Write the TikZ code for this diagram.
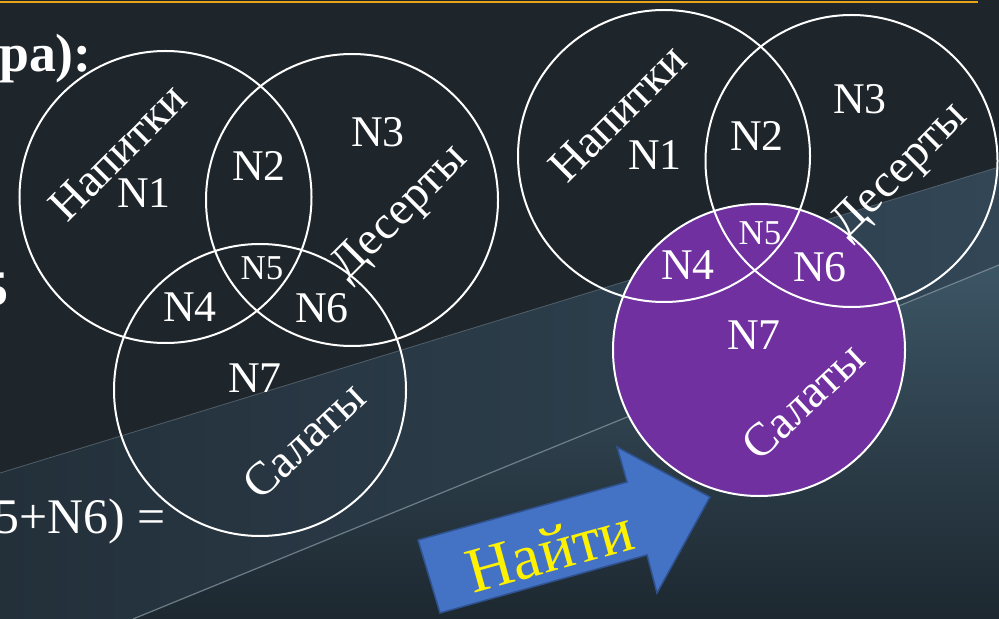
\documentclass[tikz,border=0pt]{standalone}
\usepackage{fontspec}
\setmainfont{Liberation Serif}
\usepackage{tikz}
\usetikzlibrary{shapes}
\definecolor{bgdark}{RGB}{30,38,44}
\definecolor{bandlow}{RGB}{35,48,58}
\definecolor{bandhigh}{RGB}{50,70,86}
\definecolor{streaktop}{RGB}{60,85,101}
\definecolor{streakbot}{RGB}{29,40,48}
\definecolor{gold}{RGB}{232,163,23}
\definecolor{vennpurple}{RGB}{112,48,160}
\definecolor{arrowblue}{RGB}{68,114,196}
\definecolor{arrowedge}{RGB}{47,82,143}
\tikzstyle{vset} = [circle, draw=white, line width=2bp, minimum size=292bp, inner sep=0pt]
\tikzstyle{region} = [text=white, inner sep=0pt, font=\fontsize{44}{44}\selectfont]
\tikzstyle{smallregion} = [text=white, inner sep=0pt, font=\fontsize{35}{35}\selectfont]
\tikzstyle{setname} = [text=white, inner sep=0pt, font=\fontsize{47}{47}\selectfont]
\tikzstyle{slidetext} = [text=white, inner sep=0pt, font=\fontsize{50}{50}\selectfont]

\begin{document}
\begin{tikzpicture}[x=1bp, y=-1bp]

\useasboundingbox (0,0) rectangle (999,619);
\clip (0,0) rectangle (999,619);

% background =============================
\fill[bgdark] (0,0) rectangle (999,619);
\shade[left color=bandlow, right color=bandhigh] (0,473) -- (999,167) -- (999,619) -- (0,619) -- cycle;
\shade[top color=streaktop, bottom color=streakbot] (133,619) -- (999,265) -- (999,619) -- cycle;
\draw[white!30!bandhigh, line width=0.8bp, opacity=0.6] (0,473) -- (999,167);
\draw[white!35!streaktop, line width=1.2bp, opacity=0.8] (133,619) -- (999,265);
\draw[gold, line width=2.5bp] (0,2) -- (978,2);

% slide text cut by the frame
\node[slidetext, font=\bfseries\fontsize{54}{54}\selectfont, anchor=base east] (headtail) at (92,72) {ра):};
\node[slidetext, font=\bfseries\fontsize{50}{50}\selectfont, anchor=base east] (fivetail) at (9,305) {5};
\node[slidetext, anchor=base east] (sumtail) at (166,533) {5+N6) =};

% left diagram ===========================
\node[vset] (drinksL) at (165.5,197) {};
\node[vset] (dessertsL) at (352,200) {};
\node[vset] (saladsL) at (260,390) {};

\node[region] (n1L) at (144,193) {N1};
\node[region] (n2L) at (259,166) {N2};
\node[region] (n3L) at (378,132) {N3};
\node[smallregion] (n5L) at (262,268) {N5};
\node[region] (n4L) at (190,307) {N4};
\node[region] (n6L) at (322,308) {N6};
\node[region] (n7L) at (255,378) {N7};

\node[setname, rotate=45] (drinksnameL) at (118,152) {Напитки};
\node[setname, rotate=45] (dessertsnameL) at (401,214) {Десерты};
\node[setname, rotate=43] (saladsnameL) at (304,440) {Салаты};

% right diagram ==========================
\node[vset, fill=vennpurple] (saladsR) at (759,350) {};
\node[vset] (drinksR) at (664,156) {};
\node[vset] (dessertsR) at (851.5,161) {};

\node[region] (n1R) at (655,155) {N1};
\node[region] (n2R) at (757,136) {N2};
\node[region] (n3R) at (860,99) {N3};
\node[smallregion] (n5R) at (760,233) {N5};
\node[region] (n4R) at (688,265) {N4};
\node[region] (n6R) at (820,267) {N6};
\node[region] (n7R) at (754,335) {N7};

\node[setname, rotate=45] (drinksnameR) at (618,113) {Напитки};
\node[setname, rotate=45] (dessertsnameR) at (901,172) {Десерты};
\node[setname, rotate=43] (saladsnameR) at (803,401) {Салаты};

% arrow ==================================
\draw[arrowedge, fill=arrowblue, line width=1.5bp, line join=miter]
  (418,540) -- (627,482) -- (617,447) -- (710,497) -- (657,593) -- (647,555) -- (440,613) -- cycle;
\node[text=yellow, inner sep=0pt, rotate=15.5, font=\fontsize{64}{64}\selectfont] (find) at (550,550) {Найти};

\end{tikzpicture}
\end{document}
